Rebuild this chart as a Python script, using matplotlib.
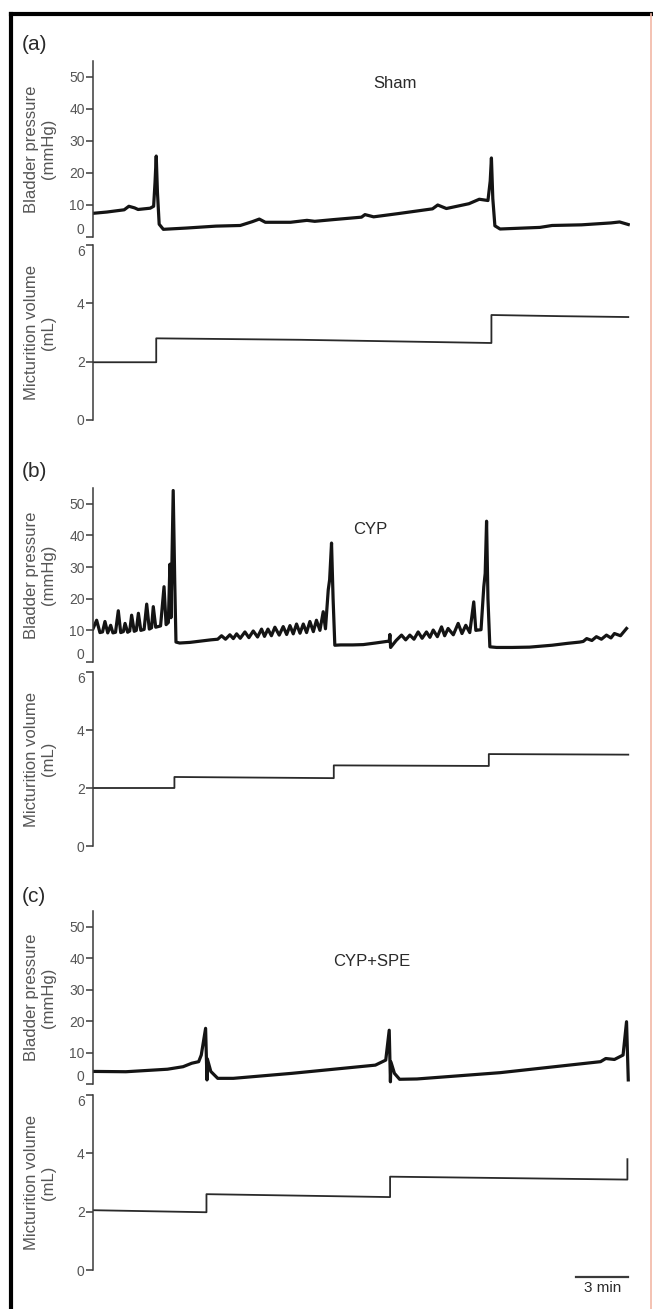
import matplotlib
matplotlib.use("Agg")
import matplotlib.pyplot as plt
from matplotlib.lines import Line2D
from matplotlib.transforms import blended_transform_factory

plt.rcParams["font.family"] = ["Liberation Sans", "DejaVu Sans"]

# --- data (time in min) ---
panel_tags = ["(a)", "(b)", "(c)"]
group_names = ["Sham", "CYP", "CYP+SPE"]

# bladder pressure traces (mmHg)
sham_t = [0.0, 0.8, 1.8, 2.07, 2.4, 2.6, 3.3, 3.5, 3.58, 3.65, 3.72, 3.82, 4.06,
          5.4, 7.1, 8.5, 9.2, 9.6, 9.95, 11.4, 12.35, 12.8, 13.8, 15.5, 15.7,
          16.2, 17.6, 19.6, 19.9, 20.4, 21.7, 22.3, 22.8, 22.93, 23.0, 23.08,
          23.2, 23.5, 25.8, 26.5, 28.2, 29.9, 30.4, 30.9]
sham_p = [7.4, 7.8, 8.5, 9.6, 9.1, 8.6, 9.0, 9.6, 17.0, 25.3, 14.0, 4.0, 2.4,
          2.8, 3.4, 3.6, 4.8, 5.6, 4.6, 4.6, 5.2, 4.9, 5.4, 6.2, 7.0,
          6.3, 7.3, 8.8, 10.0, 8.9, 10.4, 11.8, 11.4, 17.5, 24.7, 12.0,
          3.5, 2.5, 3.0, 3.6, 3.8, 4.4, 4.7, 3.9]

cyp_t = [0.0, 0.21, 0.4, 0.55, 0.69, 0.85, 1.02, 1.15, 1.3, 1.46, 1.6, 1.75,
         1.85, 2.0, 2.12, 2.23, 2.38, 2.5, 2.62, 2.76, 2.95, 3.1, 3.25, 3.38,
         3.48, 3.62, 3.9, 4.1, 4.22, 4.35, 4.44, 4.5, 4.63, 4.72, 4.79,
         5.0, 5.6, 6.2, 6.8, 7.2, 7.42, 7.65, 7.9, 8.1, 8.29, 8.5, 8.77, 9.0,
         9.25, 9.5, 9.73, 9.9, 10.1, 10.3, 10.5, 10.75, 10.98, 11.18, 11.37,
         11.56, 11.75, 11.95, 12.14, 12.33, 12.52, 12.72, 12.9, 13.1, 13.29,
         13.42, 13.58, 13.66, 13.77, 13.86, 13.96,
         14.3, 15.0, 15.6, 16.3, 16.95, 17.1, 17.14, 17.18, 17.5, 17.81, 18.05,
         18.29, 18.53, 18.77, 19.0, 19.25, 19.45, 19.64, 19.88, 20.12, 20.3,
         20.5, 20.8, 21.08, 21.3, 21.52, 21.75, 21.98, 22.1, 22.23, 22.4,
         22.56, 22.64, 22.72, 22.8, 22.91,
         23.3, 24.2, 25.2, 26.5, 27.4, 28.1, 28.3, 28.5, 28.8, 29.06, 29.35,
         29.64, 29.9, 30.1, 30.45, 30.8]
cyp_p = [10.5, 13.2, 9.3, 9.5, 12.8, 9.2, 11.6, 9.2, 9.4, 16.2, 9.3, 9.6,
         12.2, 9.4, 9.8, 14.8, 9.7, 10.0, 15.4, 10.0, 10.3, 18.3, 10.4, 10.8,
         17.5, 11.0, 11.4, 23.8, 11.8, 12.5, 30.9, 14.0, 54.2, 25.0, 6.3,
         6.0, 6.2, 6.6, 7.0, 7.2, 8.3, 7.2, 8.6, 7.4, 8.9, 7.5, 9.5, 7.7,
         9.8, 7.9, 10.4, 8.1, 10.4, 8.3, 11.0, 8.5, 11.2, 8.7, 11.5,
         8.9, 12.0, 9.1, 12.0, 9.3, 12.8, 9.6, 13.2, 10.0, 15.9,
         10.5, 22.8, 26.0, 37.6, 20.0, 5.3,
         5.4, 5.4, 5.5, 6.0, 6.5, 6.6, 8.7, 4.6, 6.8, 8.5, 7.0,
         8.5, 7.2, 9.5, 7.5, 9.5, 7.8, 10.1, 8.0, 11.1, 8.3,
         10.6, 8.6, 12.2, 9.0, 11.6, 9.3, 19.0, 10.0, 10.1, 10.2,
         23.8, 28.0, 44.5, 20.0, 4.8,
         4.6, 4.6, 4.7, 5.3, 5.9, 6.3, 6.5, 7.4, 6.8, 8.0, 7.2,
         8.5, 7.6, 9.0, 8.3, 10.6]

spe_t = [0.0, 1.9, 4.3, 5.2, 5.7, 6.1, 6.25, 6.5, 6.58, 6.6, 6.8, 7.2, 8.1,
         11.5, 16.3, 16.9, 17.1, 17.17, 17.2, 17.4, 17.7, 18.7, 23.5, 29.3,
         29.6, 30.1, 30.6, 30.8, 30.9]
spe_p = [4.0, 3.9, 4.7, 5.5, 6.6, 7.1, 9.2, 17.7, 1.3, 8.0, 4.0, 1.8, 1.8,
         3.4, 6.0, 7.6, 17.1, 0.7, 7.0, 3.4, 1.5, 1.6, 3.6, 7.1,
         8.1, 7.8, 9.2, 19.8, 1.3]

# micturition volume traces (mL)
sham_vt = [0.0, 3.65, 3.65, 12.0, 23.0, 23.0, 27.0, 30.9]
sham_v = [1.98, 1.98, 2.8, 2.75, 2.64, 3.6, 3.56, 3.53]
cyp_vt = [0.0, 4.7, 4.7, 13.9, 13.9, 22.85, 22.85, 30.9]
cyp_v = [2.0, 2.0, 2.38, 2.34, 2.78, 2.76, 3.17, 3.15]
spe_vt = [0.0, 6.55, 6.55, 17.15, 17.15, 30.85, 30.85]
spe_v = [2.05, 1.98, 2.6, 2.5, 3.2, 3.1, 3.8]

pressure_ticks = [0, 10, 20, 30, 40, 50]
volume_ticks = [0, 2, 4, 6]
scale_bar_min = 3

# --- layout helpers (pixels, origin top-left) ---
W, H = 653, 1309
fig = plt.figure(figsize=(W / 100, H / 100), dpi=100)


def px_axes(left, top, right, bottom):
    return fig.add_axes([left / W, 1 - bottom / H, (right - left) / W, (bottom - top) / H])


def px(x, y):
    return x / W, 1 - y / H


ink = "#3a3a3a"
label_col = "#555555"

pressure_rows = [(61, 237), (488, 662), (911, 1084)]
volume_rows = [(245, 420), (672, 846), (1095, 1270)]
tag_y = [45, 472, 896]
title_pos = [(395, 83), (370, 530), (372, 962)]

traces = [(sham_t, sham_p, sham_vt, sham_v),
          (cyp_t, cyp_p, cyp_vt, cyp_v),
          (spe_t, spe_p, spe_vt, spe_v)]


def style(ax, ticks, ylim):
    ax.set_xlim(0, 31)
    ax.set_ylim(*ylim)
    for s in ["top", "right", "bottom"]:
        ax.spines[s].set_visible(False)
    ax.spines["left"].set_color(ink)
    ax.spines["left"].set_linewidth(1.1)
    ax.spines["left"].set_bounds(ylim[0], ylim[1])
    ax.set_xticks([])
    ax.set_yticks(ticks)
    ax.tick_params(axis="y", direction="out", length=5, width=1.1, color=ink,
                   labelsize=10, labelcolor=label_col, pad=1)
    ax.patch.set_alpha(0)


for i in range(3):
    t, p, vt, v = traces[i]
    axp = px_axes(93, pressure_rows[i][0], 630, pressure_rows[i][1])
    axp.plot(t, p, color="#141414", lw=2.3, solid_joinstyle="round")
    style(axp, pressure_ticks, (0, 55))
    # keep the "0" of pressure and the "6" of volume from colliding
    axp.yaxis.get_major_ticks()[0].label1.set_va("bottom")

    axv = px_axes(93, volume_rows[i][0], 630, volume_rows[i][1])
    axv.plot(vt, v, color="#2a2a2a", lw=1.3)
    style(axv, volume_ticks, (0, 6))
    axv.yaxis.get_major_ticks()[-1].label1.set_va("top")

    fig.text(*px(22, tag_y[i]), panel_tags[i], fontsize=15, color="#2a2a2a",
             ha="left", va="center")
    fig.text(*px(*title_pos[i]), group_names[i], fontsize=12, color="#2a2a2a",
             ha="center", va="center")
    fig.text(*px(40, sum(pressure_rows[i]) / 2), "Bladder pressure\n(mmHg)",
             rotation=90, fontsize=12, color=label_col, ha="center", va="center",
             linespacing=1.1)
    fig.text(*px(40, sum(volume_rows[i]) / 2), "Micturition volume\n(mL)",
             rotation=90, fontsize=12, color=label_col, ha="center", va="center",
             linespacing=1.1)

# scale bar under the last panel
tr = blended_transform_factory(axv.transData, axv.transAxes)
bar_end = 30.9
axv.plot([bar_end - scale_bar_min, bar_end], [-0.04, -0.04], color=ink, lw=1.6,
         transform=tr, clip_on=False)
axv.text(bar_end - scale_bar_min / 2, -0.06, "3 min", transform=tr, ha="center",
         va="top", fontsize=11, color="#2a2a2a")

# figure frame
fig.add_artist(Line2D([11 / W, 1], [1 - 14 / H, 1 - 14 / H], color="black", lw=3,
                      transform=fig.transFigure))
fig.add_artist(Line2D([11 / W, 11 / W], [0, 1 - 14 / H], color="black", lw=3,
                      transform=fig.transFigure))
fig.add_artist(Line2D([651 / W, 651 / W], [0, 1 - 14 / H], color="#f2b8a6", lw=1.2,
                      transform=fig.transFigure))

fig.savefig("out.png", dpi=100)
